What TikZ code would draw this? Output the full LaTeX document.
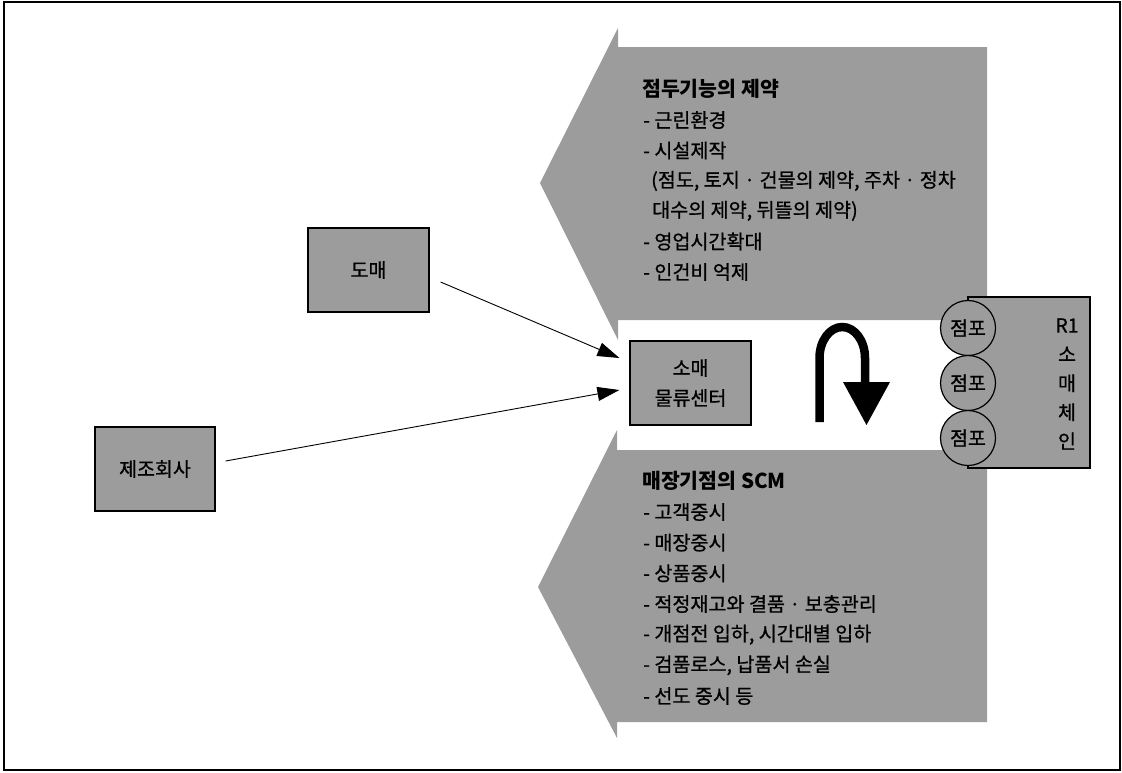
\documentclass[tikz,border=0pt]{standalone}
\usepackage{fontspec}
\setmainfont{Noto Sans CJK KR}
\newfontfamily\kbody{Noto Sans CJK KR}[FakeBold=0.8]
\usetikzlibrary{arrows.meta}
\definecolor{halftone}{gray}{0.61}
\begin{document}
\begin{tikzpicture}[x=1pt,y=-1pt,
  box/.style={draw=black, line width=1.2pt, fill=halftone, inner sep=0pt,
    font=\kbody\fontsize{19.5}{30}\selectfont, align=center},
  store/.style={circle, draw=black, line width=1.2pt, fill=halftone, inner sep=0pt,
    minimum size=55pt, font=\kbody\fontsize{19.5}{20}\selectfont},
  item/.style={anchor=west, inner sep=0pt, font=\kbody\fontsize{19.6}{20}\selectfont},
  head/.style={anchor=west, inner sep=0pt, font=\fontsize{20.5}{22}\selectfont\bfseries},
  con/.style={draw=black, line width=0.9pt, -{Triangle[length=22pt,width=14pt]}},
  band/.style={fill=halftone, draw=none}
]
\useasboundingbox (0,0) rectangle (1122,772);
\draw[line width=1.2pt] (4,2) rectangle (1120,770);

% gray arrow-shaped bands
\path[band] (618,28) -- (618,47) -- (987,47) -- (987,320) -- (618,320) -- (618,340) -- (540,183) -- cycle;
\path[band] (617,430) -- (617,450) -- (987,450) -- (987,722) -- (617,722) -- (617,738) -- (538,587) -- cycle;

% upper text
\node[head] (ut0) at (642,89) {점두기능의 제약};
\node[item] (ut1) at (643,120) {- 근린환경};
\node[item] (ut2) at (643,150.5) {- 시설제작};
\node[item] (ut3) at (651,181) {(점도, 토지 · 건물의 제약, 주차 · 정차};
\node[item] (ut4) at (652,211) {대수의 제약, 뒤뜰의 제약)};
\node[item] (ut5) at (643,241.5) {- 영업시간확대};
\node[item] (ut6) at (643,272) {- 인건비 억제};

% lower text
\node[head] (lt0) at (642,481) {매장기점의 SCM};
\node[item] (lt1) at (643,512) {- 고객중시};
\node[item] (lt2) at (643,542.7) {- 매장중시};
\node[item] (lt3) at (643,573.3) {- 상품중시};
\node[item] (lt4) at (643,604) {- 적정재고와 결품 · 보충관리};
\node[item] (lt5) at (643,634.7) {- 개점전 입하, 시간대별 입하};
\node[item] (lt6) at (643,665.3) {- 검품로스, 납품서 손실};
\node[item] (lt7) at (643,696) {- 선도 중시 등};

% boxes
\node[box, minimum width=121pt, minimum height=84pt] (domae) at (368.5,270) {도매};
\node[box, minimum width=120pt, minimum height=84pt] (maker) at (155,469) {제조회사};
\node[box, minimum width=121pt, minimum height=84pt] (somae) at (690.5,383) {소매\\물류센터};

% retail chain
\node[box, minimum width=122pt, minimum height=171pt] (chain) at (1029,382.5) {};
\node[inner sep=0pt, align=center, font=\kbody\fontsize{19.5}{29}\selectfont] (chainlbl) at (1067,384) {R1\\소\\매\\체\\인};
\node[store] (s1) at (968,328) {점포};
\node[store] (s2) at (968,383) {점포};
\node[store] (s3) at (968,438) {점포};

% connectors
\draw[con] ([shift={(11,12)}]domae.east) -- ([shift={(-10,-25)}]somae.west);
\draw[con] ([shift={(10,-8)}]maker.east) -- ([shift={(-10,7)}]somae.west);

% big turning arrow
\draw[line width=8.5pt] (819.5,422) -- (819.5,358) arc[start angle=180, end angle=360, x radius=22.75, y radius=31] -- (865,384);
\fill (843,382) -- (890,382) -- (866.5,425) -- cycle;
\end{tikzpicture}
\end{document}
